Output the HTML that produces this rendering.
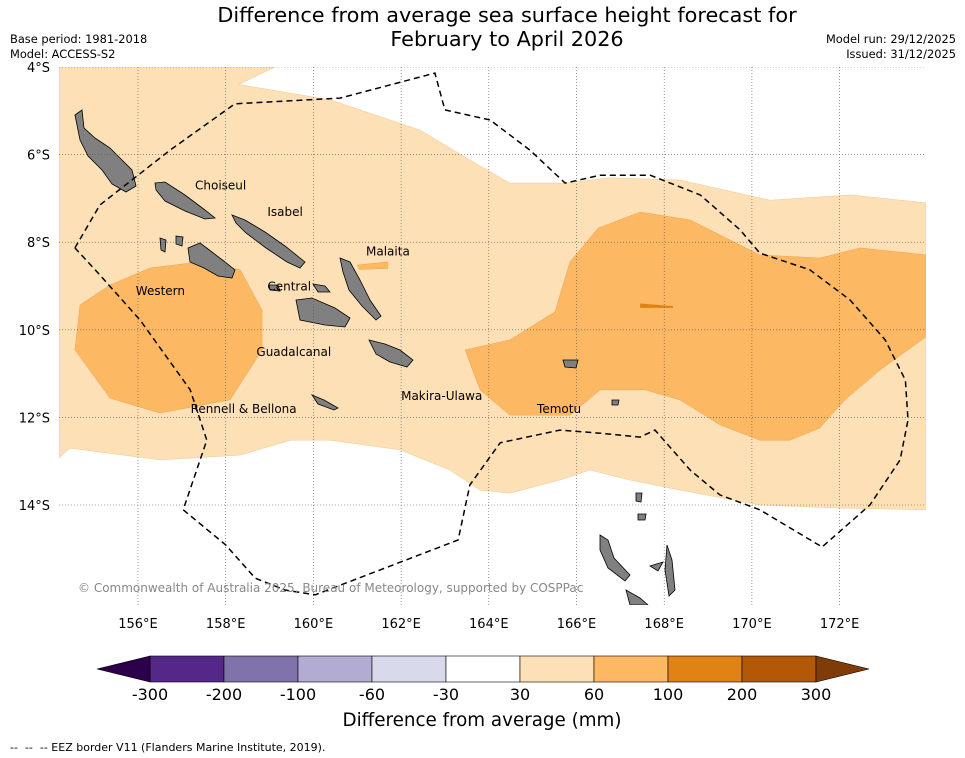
<!DOCTYPE html>
<html><head><meta charset="utf-8"><style>
body{margin:0;background:#fff;width:965px;height:758px;overflow:hidden;font-family:"DejaVu Sans","Liberation Sans",sans-serif}
svg{display:block}
</style></head><body>
<svg id="chart" width="965" height="758" xmlns="http://www.w3.org/2000/svg">
<defs><clipPath id="mapclip"><rect x="59" y="67" width="867" height="538"/></clipPath></defs>
<text x="507" y="22" text-anchor="middle" font-size="20.8">Difference from average sea surface height forecast for</text>
<text x="507" y="46" text-anchor="middle" font-size="20.8">February to April 2026</text>
<text x="10" y="43" font-size="11.4">Base period: 1981-2018</text>
<text x="10" y="58" font-size="11.4">Model: ACCESS-S2</text>
<text x="956" y="43" font-size="11.4" text-anchor="end">Model run: 29/12/2025</text>
<text x="956" y="58" font-size="11.4" text-anchor="end">Issued: 31/12/2025</text>
<g id="map" clip-path="url(#mapclip)"></g>
<g id="axes"></g>
<g id="cbar"></g>
<text x="482" y="726" text-anchor="middle" font-size="18.3">Difference from average (mm)</text>
<text x="10" y="751" font-size="11" xml:space="preserve" style="white-space:pre">--  --  -- EEZ border V11 (Flanders Marine Institute, 2019).</text>
</svg>
<script>
// ---- data ----
const lonTicks = [156,158,160,162,164,166,168,170,172];
const latTicks = [4,6,8,10,12,14];
const levels = [-300,-200,-100,-60,-30,30,60,100,200,300];
const levelColors = ['#542788','#8073ac','#b2abd2','#d8daeb','#ffffff','#fee0b6','#fdb863','#e08214','#b35806'];
const lowColor = '#2d004b', highColor = '#7f3b08';
// contour of 30-60 mm band (lon, lat south negative)
const band30 = [[154.2,-4],[159.12,-4],[158.3,-4.4],[160.38,-4.75],[162.43,-5.44],[163.57,-6.12],[164.48,-6.65],[165.74,-6.65],[166.76,-6.53],[168.36,-6.58],[170.41,-7.04],[172.24,-6.92],[173.97,-7.1],[173.97,-14.11],[172.01,-14.07],[170.18,-14.0],[168.36,-13.66],[167.22,-13.43],[166.31,-13.2],[165.62,-13.43],[164.48,-13.73],[163.8,-13.66],[163.11,-13.2],[161.97,-12.74],[160.38,-12.52],[159.47,-12.52],[158.33,-12.86],[156.5,-12.97],[154.45,-12.7],[154.2,-12.93]];
// 60-100 mm regions
const band60a = [[154.68,-9.43],[155.36,-8.98],[156.27,-8.59],[157.41,-8.45],[158.33,-8.63],[158.83,-9.55],[158.83,-10.46],[158.1,-11.6],[156.5,-11.9],[155.36,-11.56],[154.56,-10.46]];
const band60b = [[163.46,-10.46],[164.48,-10.23],[165.51,-9.59],[165.85,-8.45],[166.49,-7.68],[167.45,-7.31],[168.59,-7.49],[170.18,-8.29],[171.55,-8.36],[172.47,-8.13],[173.97,-8.29],[173.97,-10.16],[172.92,-10.92],[172.12,-11.6],[171.55,-12.24],[170.87,-12.52],[170.18,-12.52],[169.27,-12.17],[168.36,-11.6],[167.56,-11.37],[166.54,-11.37],[165.85,-11.95],[164.48,-11.95],[163.8,-11.37]];
const band60c = [[161.0,-8.52],[161.7,-8.45],[161.7,-8.6],[161.05,-8.62]];
const band100 = [[167.45,-9.4],[168.2,-9.46],[168.2,-9.5],[167.45,-9.5]];
const eez = [[154.56,-8.13],[155.13,-7.15],[156.73,-5.9],[158.21,-4.84],[160.61,-4.71],[162.77,-4.14],[163.0,-4.98],[164.03,-5.21],[164.94,-5.9],[165.74,-6.65],[166.54,-6.47],[167.68,-6.47],[168.82,-6.92],[169.73,-7.72],[170.18,-8.25],[171.32,-8.63],[172.24,-9.32],[173.04,-10.23],[173.5,-11.15],[173.56,-12.06],[173.38,-12.97],[172.69,-14.0],[171.6,-14.96],[170.18,-14.11],[169.27,-13.77],[168.59,-13.2],[167.79,-12.29],[167.45,-12.45],[166.54,-12.36],[165.62,-12.29],[164.26,-12.58],[163.57,-13.54],[163.3,-14.8],[160.04,-16.05],[159.35,-15.94],[158.67,-15.67],[158.0,-14.91],[157.03,-14.11],[157.57,-12.52],[157.19,-11.37],[156.05,-9.78],[155.13,-8.75],[154.56,-8.13]];
const provinces = [['Choiseul',157.3,-6.8],['Isabel',158.95,-7.4],['Malaita',161.2,-8.3],['Western',155.95,-9.2],['Central',158.95,-9.1],['Guadalcanal',158.7,-10.6],['Makira-Ulawa',162.0,-11.6],['Rennell & Bellona',157.2,-11.9],['Temotu',165.1,-11.9]];

// ---- scales ----
const X = lon => 138 + (lon-156)*43.85;
const Y = lat => 67 + (-lat-4)*43.8;
const NS='http://www.w3.org/2000/svg';
function mk(tag,attrs,parent){const e=document.createElementNS(NS,tag);for(const k in attrs)e.setAttribute(k,attrs[k]);parent.appendChild(e);return e;}
const map=document.getElementById('map'), axes=document.getElementById('axes'), cbar=document.getElementById('cbar');
const pts = arr => arr.map(p=>X(p[0]).toFixed(1)+','+Y(p[1]).toFixed(1)).join(' ');

let e=mk('polygon',{points:pts(band30),fill:levelColors[5],stroke:'#f0c890','stroke-width':0.5},map);


[band60a,band60b,band60c].forEach((b,i)=>{
  const p=mk('polygon',{points:pts(b),fill:levelColors[6],stroke:'#eba550','stroke-width':0.5},map);
  
  
});
e=mk('polygon',{points:pts(band100),fill:levelColors[7]},map);



// islands (static geography, pixel outlines)
const islands=["75,115 82,110 84,128 95,138 110,148 122,160 132,170 136,186 126,192 112,184 102,170 88,156 80,140","155,183 165,182 185,195 205,210 215,218 205,219 185,211 165,201 156,190","232,215 245,220 265,232 285,246 305,262 300,268 287,262 266,248 246,233 236,223","188,248 200,243 212,252 225,262 235,270 232,278 218,276 204,268 190,262","160,238 166,240 165,252 161,250","176,236 183,237 182,246 176,244","296,300 312,298 335,308 350,318 345,327 325,325 300,320","340,258 350,262 360,280 370,300 381,316 376,320 362,306 349,290 343,272","369,340 385,344 400,350 413,360 407,367 390,362 376,354","312,395 324,400 338,408 334,410 318,404","313,284 325,286 330,292 318,292","269,285 278,285 280,291 270,290","563,360 578,360 576,368 565,367","600,535 608,540 614,558 630,575 625,581 608,568 600,550","626,590 640,598 648,605 630,605","667,545 672,560 675,590 669,596 665,570","650,566 663,562 658,571","636,493 642,493 641,502 636,501","638,514 646,514 645,520 638,520","612,400 619,400 618,405 612,405"];
islands.forEach((s,i)=>{const p=mk('polygon',{points:s,fill:'#808080',stroke:'#000','stroke-width':0.8},map);
 
 });

// gridlines
lonTicks.forEach(l=>{const g=mk('line',{x1:X(l),x2:X(l),y1:67,y2:605,stroke:'#555','stroke-width':0.6,'stroke-dasharray':'1,2'},map);
 
 });
latTicks.forEach(l=>{const g=mk('line',{x1:59,x2:926,y1:Y(-l),y2:Y(-l),stroke:'#555','stroke-width':0.6,'stroke-dasharray':'1,2'},map);
 
 });

e=mk('polyline',{points:pts(eez),fill:'none',stroke:'#000','stroke-width':1.5,'stroke-dasharray':'6,4'},map);



provinces.forEach(p=>{const t=mk('text',{x:X(p[1]),y:Y(p[2]),'font-size':12},map);t.textContent=p[0];
 
 });

const cp=mk('text',{x:78,y:592,'font-size':12,fill:'#888'},map);cp.textContent='© Commonwealth of Australia 2025, Bureau of Meteorology, supported by COSPPac';



// axis tick labels
lonTicks.forEach(l=>{const t=mk('text',{x:X(l),y:628,'font-size':13,'text-anchor':'middle'},axes);t.textContent=l+'°E';
 
 });
latTicks.forEach(l=>{const t=mk('text',{x:50,y:Y(-l)+5,'font-size':13,'text-anchor':'end'},axes);t.textContent=l+'°S';
 
 });

// colorbar
const cbX0=150, cbW=74, cbY=656, cbH=26, n=levelColors.length;
levelColors.forEach((c,i)=>{const r=mk('rect',{x:cbX0+i*cbW,y:cbY,width:cbW,height:cbH,fill:c,stroke:'#000','stroke-width':0.6},cbar);
 
 });
e=mk('polygon',{points:`${cbX0},${cbY} ${cbX0-53},${cbY+cbH/2} ${cbX0},${cbY+cbH}`,fill:lowColor,stroke:'#000','stroke-width':0.6},cbar);


const xe=cbX0+n*cbW;
e=mk('polygon',{points:`${xe},${cbY} ${xe+53},${cbY+cbH/2} ${xe},${cbY+cbH}`,fill:highColor,stroke:'#000','stroke-width':0.6},cbar);


levels.forEach((v,i)=>{const t=mk('text',{x:cbX0+i*cbW,y:700,'font-size':16,'text-anchor':'middle'},cbar);t.textContent=v;
 
 });
</script>
</body></html>
